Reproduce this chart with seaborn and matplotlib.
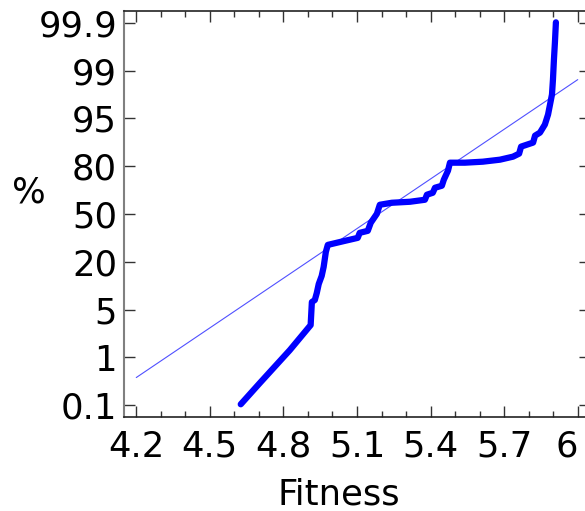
import numpy as np
import pandas as pd
import matplotlib
matplotlib.use("Agg")
import matplotlib.pyplot as plt
from matplotlib.ticker import MultipleLocator, FixedLocator
import seaborn as sns

# Probability-scale tick labels (evenly spaced positions 0..8 on the plot's y scale)
prob_labels = ["0.1", "1", "5", "20", "50", "80", "95", "99", "99.9"]
prob_pos = list(range(len(prob_labels)))

# Empirical curve: fitness vs probability-scale position
fit_x = [4.626, 4.703, 4.826, 4.911, 4.916, 4.928, 4.936, 4.944, 4.956, 4.964,
         4.973, 4.981, 5.050, 5.103, 5.111, 5.144, 5.156, 5.181, 5.193, 5.242,
         5.316, 5.377, 5.385, 5.409, 5.418, 5.446, 5.454, 5.471, 5.479, 5.540,
         5.613, 5.683, 5.736, 5.761, 5.769, 5.818, 5.826, 5.846, 5.866, 5.879,
         5.887, 5.895, 5.899, 5.903, 5.907, 5.911]
prob_y = [0.021, 0.461, 1.153, 1.677, 2.159, 2.201, 2.348, 2.537, 2.704, 2.893,
          3.208, 3.354, 3.438, 3.501, 3.606, 3.648, 3.816, 4.004, 4.193, 4.235,
          4.256, 4.298, 4.403, 4.444, 4.549, 4.591, 4.717, 4.906, 5.073, 5.073,
          5.094, 5.136, 5.199, 5.262, 5.409, 5.493, 5.639, 5.702, 5.870, 6.080,
          6.289, 6.499, 6.813, 7.233, 7.589, 8.008]

# Reference (fitted normal) line
ref_x = [4.2, 6.0]
ref_y = [0.58, 6.81]

xticks = [4.2, 4.5, 4.8, 5.1, 5.4, 5.7, 6.0]
xtick_labels = ["4.2", "4.5", "4.8", "5.1", "5.4", "5.7", "6"]

sns.set_style("ticks")
plt.rcParams["font.family"] = ["DejaVu Sans"]
plt.rcParams["text.color"] = "black"
plt.rcParams["xtick.labelcolor"] = "black"
plt.rcParams["ytick.labelcolor"] = "black"
plt.rcParams["axes.labelcolor"] = "black"

fig = plt.figure(figsize=(5.85, 5.11), dpi=100)
ax = fig.add_axes([124 / 585, 1 - 417 / 511, 466 / 585, 406 / 511])

curve = pd.DataFrame({"Fitness": fit_x, "p": prob_y})
ref = pd.DataFrame({"Fitness": ref_x, "p": ref_y})

sns.lineplot(data=ref, x="Fitness", y="p", sort=False, estimator=None,
             color="#5050ff", lw=0.8, ax=ax)
sns.lineplot(data=curve, x="Fitness", y="p", sort=False, estimator=None,
             color="#0000ff", lw=4.5, ax=ax)

ax.set_xlim(4.15, 6.05)
ax.set_ylim(-0.245, 8.245)

ax.xaxis.set_major_locator(FixedLocator(xticks))
ax.set_xticklabels(xtick_labels)
ax.xaxis.set_minor_locator(MultipleLocator(0.1))
ax.yaxis.set_major_locator(FixedLocator(prob_pos))
ax.set_yticklabels(prob_labels)

ax.tick_params(axis="both", which="major", direction="in", length=8, width=1,
               labelsize=25.5, color="#333333", top=True, right=True,
               labelcolor="black")
ax.tick_params(axis="x", which="major", pad=9)
ax.tick_params(axis="y", which="major", pad=5)
ax.tick_params(axis="x", which="minor", direction="in", length=4, width=1,
               color="#333333", top=True, bottom=True)

# last x label sits flush against the figure edge
ax.get_xticklabels()[-1].set_horizontalalignment("right")

for s in ["top", "bottom", "right"]:
    ax.spines[s].set_color("#222222")
    ax.spines[s].set_linewidth(1.2)
ax.spines["left"].set_color("#808080")
ax.spines["left"].set_linewidth(1.5)

ax.set_xlabel("Fitness", fontsize=25.5, color="black")
ax.xaxis.set_label_coords((339 - 124) / 466, -0.15)
ax.set_ylabel("%", fontsize=25.5, rotation=0, va="center", ha="center",
              color="black")
ax.yaxis.set_label_coords((29 - 124) / 466, (417 - 192) / 406)

fig.savefig("out.png", dpi=100)
